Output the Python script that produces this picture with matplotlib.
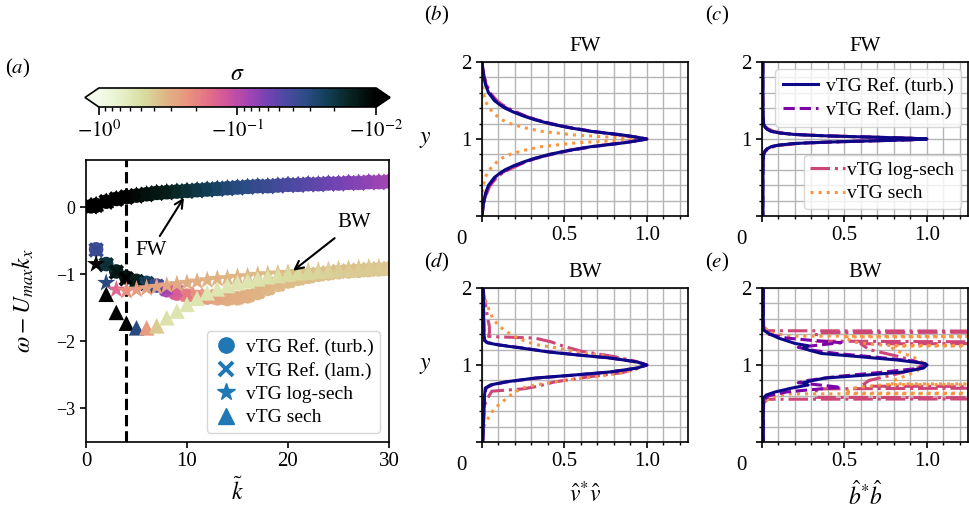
import numpy as np
import matplotlib
matplotlib.use("Agg")
import matplotlib.pyplot as plt
from matplotlib.colors import LinearSegmentedColormap, FuncNorm
from matplotlib.cm import ScalarMappable
from matplotlib.lines import Line2D
from matplotlib.ticker import MultipleLocator

plt.rcParams['font.family'] = 'serif'
plt.rcParams['font.serif'] = ['Liberation Serif', 'DejaVu Serif']
plt.rcParams['mathtext.fontset'] = 'stix'
plt.rcParams['axes.linewidth'] = 1.2

# ---------------- panel (a): dispersion, coloured by growth rate sigma ----------------
k_fw = [0.5, 1, 2, 3, 4, 5, 6, 7, 8, 9, 10, 11, 12, 13, 14, 15, 16, 17, 18, 19, 20,
        21, 22, 23, 24, 25, 26, 27, 28, 29, 30]
fw_turb = [0.01, 0.03, 0.08, 0.12, 0.15, 0.17, 0.19, 0.21, 0.22, 0.23, 0.24, 0.25, 0.26, 0.27, 0.28,
           0.29, 0.30, 0.31, 0.31, 0.32, 0.33, 0.33, 0.34, 0.34, 0.35, 0.35, 0.36, 0.36, 0.37, 0.37, 0.38]
fw_lam = [0.01, 0.03, 0.08, 0.12, 0.15, 0.17, 0.19, 0.21, 0.22, 0.23, 0.24, 0.25, 0.26, 0.27, 0.28,
          0.29, 0.30, 0.31, 0.31, 0.32, 0.33, 0.33, 0.34, 0.34, 0.35, 0.35, 0.36, 0.36, 0.37, 0.37, 0.38]
fw_logsech = [0.0, 0.02, 0.07, 0.11, 0.14, 0.16, 0.18, 0.20, 0.21, 0.22, 0.23, 0.24, 0.25, 0.26, 0.27,
              0.28, 0.29, 0.30, 0.30, 0.31, 0.32, 0.32, 0.33, 0.33, 0.34, 0.34, 0.35, 0.35, 0.36, 0.36, 0.37]
fw_sech = [0.03, 0.05, 0.10, 0.14, 0.17, 0.19, 0.21, 0.23, 0.24, 0.25, 0.26, 0.27, 0.28, 0.29, 0.30,
           0.31, 0.32, 0.33, 0.33, 0.34, 0.35, 0.35, 0.36, 0.36, 0.37, 0.37, 0.38, 0.38, 0.39, 0.39, 0.40]
sig_fw = [-0.01, -0.01, -0.01, -0.01, -0.01, -0.011, -0.012, -0.013, -0.014, -0.016, -0.018, -0.02,
          -0.022, -0.025, -0.028, -0.03, -0.032, -0.035, -0.037, -0.04, -0.043, -0.046, -0.049,
          -0.052, -0.056, -0.06, -0.064, -0.068, -0.073, -0.078, -0.083]

k_bw = [1, 2, 3, 4, 5, 6, 7, 8, 9, 10, 11, 12, 13, 14, 15, 16, 17, 18, 19, 20,
        21, 22, 23, 24, 25, 26, 27, 28, 29, 30]
bw_turb = [-0.63, -0.85, -0.96, -1.05, -1.10, -1.13, -1.17, -1.24, -1.29, -1.32, -1.34, -1.35, -1.36,
           -1.37, -1.36, -1.33, -1.28, -1.22, -1.16, -1.11, -1.07, -1.04, -1.01, -0.99, -0.97,
           -0.96, -0.95, -0.94, -0.93, -0.92]
sig_turb = [-0.04, -0.02, -0.015, -0.012, -0.015, -0.025, -0.04, -0.09, -0.14, -0.19, -0.23, -0.26,
            -0.28, -0.3, -0.31, -0.32, -0.33, -0.34, -0.35, -0.35, -0.36, -0.36, -0.36, -0.37,
            -0.37, -0.37, -0.37, -0.38, -0.38, -0.38]
bw_lam = [-0.64, -0.86, -0.97, -1.07, -1.11, -1.14, -1.18, -1.22, -1.27, -1.30, -1.32, -1.33, -1.34,
          -1.35, -1.34, -1.31, -1.26, -1.20, -1.15, -1.10, -1.06, -1.03, -1.00, -0.98, -0.96,
          -0.95, -0.94, -0.93, -0.92, -0.92]
sig_lam = [-0.035, -0.018, -0.013, -0.01, -0.014, -0.022, -0.035, -0.08, -0.13, -0.18, -0.22, -0.25,
           -0.27, -0.29, -0.3, -0.31, -0.32, -0.33, -0.34, -0.35, -0.35, -0.36, -0.36, -0.36,
           -0.37, -0.37, -0.37, -0.37, -0.38, -0.38]
bw_logsech = [-0.85, -1.13, -1.23, -1.25, -1.23, -1.21, -1.19, -1.17, -1.15, -1.13, -1.11, -1.09,
              -1.07, -1.06, -1.04, -1.03, -1.01, -1.0, -0.99, -0.98, -0.97, -0.96, -0.95, -0.94,
              -0.93, -0.92, -0.91, -0.9, -0.9, -0.89]
sig_logsech = [-0.01, -0.03, -0.15, -0.22, -0.25, -0.26, -0.27, -0.28, -0.29, -0.3, -0.31, -0.32,
               -0.32, -0.33, -0.33, -0.34, -0.34, -0.35, -0.35, -0.35, -0.36, -0.36, -0.36, -0.37,
               -0.37, -0.37, -0.37, -0.38, -0.38, -0.38]
bw_sech = [np.nan, -1.30, -1.57, -1.73, -1.80, -1.80, -1.77, -1.65, -1.55, -1.45, -1.36, -1.28,
           -1.22, -1.17, -1.13, -1.10, -1.07, -1.04, -1.02, -1.0, -0.98, -0.97, -0.96, -0.95,
           -0.94, -0.93, -0.92, -0.91, -0.91, -0.9]
sig_sech = [np.nan, -0.01, -0.01, -0.01, -0.03, -0.25, -0.4, -0.52, -0.55, -0.56, -0.56, -0.56, -0.56,
            -0.56, -0.55, -0.55, -0.54, -0.52, -0.5, -0.48, -0.46, -0.45, -0.44, -0.43, -0.42,
            -0.41, -0.4, -0.4, -0.4, -0.4]

k_cut = 4

cmap_colors = ['#f4faec', '#e6f0c8', '#d8dca0', '#dfb584', '#e9947e', '#e36c88', '#cc52a0',
               '#a444b4', '#7442b4', '#4a4aa0', '#2c4c86', '#12405a', '#0a2a2a', '#041410', '#000000']
cmap_pos = [0.0, 0.08, 0.16, 0.24, 0.32, 0.40, 0.47, 0.54, 0.61, 0.68, 0.75, 0.82, 0.89, 0.95, 1.0]

# ---------------- panels (b)-(e): eigenfunction profiles ----------------
b_off = [0, 0.02, 0.05, 0.1, 0.15, 0.2, 0.25, 0.3, 0.35, 0.4, 0.45, 0.5, 0.6, 0.7, 0.8, 0.9, 1.0]
b_turb = [1.0, 0.95, 0.86, 0.66, 0.52, 0.41, 0.32, 0.25, 0.19, 0.14, 0.105, 0.075, 0.04, 0.022, 0.012, 0.005, 0.0]
b_lam = [1.0, 0.95, 0.86, 0.67, 0.53, 0.42, 0.33, 0.26, 0.2, 0.15, 0.11, 0.08, 0.045, 0.025, 0.013, 0.005, 0.0]
b_logsech = [1.0, 0.94, 0.84, 0.66, 0.52, 0.41, 0.33, 0.26, 0.21, 0.16, 0.12, 0.09, 0.05, 0.03, 0.015, 0.005, 0.0]
b_sech = [1.0, 0.82, 0.57, 0.36, 0.25, 0.17, 0.12, 0.09, 0.065, 0.045, 0.03, 0.02, 0.008, 0.003, 0.0, 0.0, 0.0]

c_off = [0, 0.01, 0.02, 0.03, 0.04, 0.05, 0.06, 0.08, 0.1, 0.13, 0.16, 0.2, 0.3, 0.5, 1.0]
c_turb = [1.0, 0.9, 0.74, 0.56, 0.4, 0.28, 0.19, 0.1, 0.055, 0.03, 0.017, 0.01, 0.007, 0.006, 0.006]
c_lam = [1.0, 0.9, 0.74, 0.56, 0.4, 0.28, 0.19, 0.1, 0.055, 0.03, 0.017, 0.01, 0.006, 0.005, 0.005]
c_logsech = [1.0, 0.9, 0.75, 0.58, 0.42, 0.3, 0.21, 0.12, 0.07, 0.04, 0.02, 0.01, 0.005, 0.003, 0.0]
c_sech = [1.0, 0.89, 0.73, 0.55, 0.4, 0.28, 0.2, 0.11, 0.065, 0.035, 0.02, 0.01, 0.004, 0.002, 0.0]

d_turb_y = [2.0, 1.6, 1.4, 1.32, 1.29, 1.26, 1.22, 1.17, 1.13, 1.09, 1.04, 1.0, 0.96, 0.91, 0.87,
            0.83, 0.78, 0.74, 0.70, 0.6, 0.4, 0.2, 0.0]
d_turb_x = [0.008, 0.01, 0.012, 0.015, 0.03, 0.1, 0.24, 0.4, 0.58, 0.78, 0.94, 1.0, 0.94, 0.78, 0.56,
            0.32, 0.14, 0.05, 0.02, 0.015, 0.012, 0.008, 0.005]
d_lam_y = [2.0, 1.6, 1.4, 1.32, 1.29, 1.26, 1.22, 1.17, 1.13, 1.09, 1.04, 1.0, 0.96, 0.91, 0.87,
           0.83, 0.78, 0.74, 0.70, 0.6, 0.4, 0.2, 0.0]
d_lam_x = [0.008, 0.01, 0.012, 0.016, 0.035, 0.11, 0.25, 0.41, 0.59, 0.78, 0.94, 1.0, 0.94, 0.78, 0.57,
           0.33, 0.15, 0.06, 0.025, 0.015, 0.012, 0.008, 0.005]
d_logsech_y = [2.0, 1.8, 1.6, 1.5, 1.42, 1.37, 1.35, 1.3, 1.24, 1.18, 1.11, 1.05, 1.0, 0.95, 0.9,
               0.85, 0.78, 0.72, 0.69, 0.66, 0.61, 0.55, 0.5, 0.4, 0.2, 0.0]
d_logsech_x = [0.005, 0.02, 0.035, 0.045, 0.045, 0.04, 0.32, 0.42, 0.5, 0.6, 0.8, 0.93, 1.0, 0.93, 0.85,
               0.66, 0.44, 0.33, 0.25, 0.06, 0.045, 0.03, 0.02, 0.01, 0.005, 0.0]
d_sech_y = [1.95, 1.87, 1.7, 1.6, 1.5, 1.39, 1.3, 1.26, 1.22, 1.17, 1.12, 1.06, 1.0, 0.95, 0.9, 0.85,
            0.8, 0.78, 0.74, 0.7, 0.62, 0.55, 0.48, 0.42, 0.3, 0.22, 0.1]
d_sech_x = [0.005, 0.016, 0.046, 0.066, 0.106, 0.18, 0.27, 0.34, 0.46, 0.58, 0.74, 0.88, 1.0, 0.94,
            0.85, 0.7, 0.5, 0.44, 0.32, 0.24, 0.18, 0.14, 0.1, 0.07, 0.035, 0.016, 0.005]

e_turb_y = [2.0, 1.5, 1.45, 1.41, 1.35, 1.28, 1.25, 1.22, 1.19, 1.15, 1.11, 1.065, 1.02, 1.0, 0.96,
            0.91, 0.87, 0.83, 0.79, 0.77, 0.74, 0.7, 0.65, 0.61, 0.57, 0.5, 0.0]
e_turb_x = [0.008, 0.008, 0.012, 0.04, 0.1, 0.2, 0.28, 0.25, 0.29, 0.36, 0.58, 0.82, 0.99, 1.0, 0.98,
            0.86, 0.64, 0.38, 0.29, 0.25, 0.28, 0.18, 0.08, 0.026, 0.008, 0.008, 0.008]
e_lam_y = [2.0, 1.46, 1.4, 1.35, 1.32, 1.29, 1.26, 1.23, 1.2, 1.15, 1.1, 1.05, 1.0, 0.95, 0.9, 0.85,
           0.8, 0.77, 0.74, 0.71, 0.68, 0.65, 0.6, 0.54, 0.0]
e_lam_x = [0.008, 0.008, 0.04, 0.15, 0.3, 0.48, 0.35, 0.22, 0.28, 0.45, 0.7, 0.92, 1.0, 0.92, 0.7, 0.45,
           0.28, 0.22, 0.35, 0.48, 0.3, 0.15, 0.04, 0.008, 0.008]
e_logsech_y = [2.0, 1.5, 1.445, 1.435, 1.42, 1.31, 1.285, 1.275, 1.2, 1.1, 1.0, 0.9, 0.8, 0.725,
               0.715, 0.69, 0.58, 0.565, 0.555, 0.5, 0.0]
e_logsech_x = [0.005, 0.01, 0.03, 3.0, 0.33, 0.33, 3.0, 0.6, 0.65, 0.85, 1.0, 0.85, 0.65, 0.6,
               3.0, 0.33, 0.33, 3.0, 0.03, 0.01, 0.005]
e_sech_y = [2.0, 1.5, 1.42, 1.375, 1.37, 1.365, 1.3, 1.255, 1.25, 1.245, 1.2, 1.1, 1.0, 0.9, 0.8,
            0.755, 0.75, 0.745, 0.7, 0.635, 0.63, 0.625, 0.58, 0.5, 0.0]
e_sech_x = [0.005, 0.01, 0.05, 0.16, 3.0, 0.5, 0.55, 0.74, 3.0, 0.78, 0.8, 0.92, 1.0, 0.92, 0.8,
            0.78, 3.0, 0.74, 0.55, 0.5, 3.0, 0.16, 0.05, 0.01, 0.005]

col_turb = '#0d0887'
col_lam = '#7e03a8'
col_logsech = '#cc4778'
col_sech = '#f89540'

labels = ['vTG Ref. (turb.)', 'vTG Ref. (lam.)', 'vTG log-sech', 'vTG sech']

# ---------------- figure ----------------
W, H = 970, 511
fig = plt.figure(figsize=(9.7, 5.11), dpi=100)


def fbox(x0, y0, x1, y1):
    return [x0 / W, 1 - y1 / H, (x1 - x0) / W, (y1 - y0) / H]


cmap = LinearSegmentedColormap.from_list('sig', list(zip(cmap_pos, cmap_colors)))
norm = FuncNorm((lambda s: -np.log10(-s), lambda u: -10.0 ** (-u)), vmin=-1.0, vmax=-0.01)

ax = fig.add_axes(fbox(86, 160, 389, 442))
ax.axvline(k_cut, color='k', lw=2.2, ls='--', zorder=1)

sets = [('o', 110, fw_turb, bw_turb, sig_turb),
        ('x', 85, fw_lam, bw_lam, sig_lam),
        ('*', 190, fw_logsech, bw_logsech, sig_logsech),
        ('^', 125, fw_sech, bw_sech, sig_sech)]
for mk, s, fw, bw, sg in sets:
    lw = 2.8 if mk == 'x' else 0
    ax.scatter(k_bw, bw, c=sg, cmap=cmap, norm=norm, marker=mk, s=s, linewidths=lw, zorder=2)
    ax.scatter(k_fw, fw, c=sig_fw, cmap=cmap, norm=norm, marker=mk, s=s, linewidths=lw, zorder=2)

ax.annotate('FW', xy=(9.7, 0.14), xytext=(6.4, -0.65), fontsize=15, ha='center', va='center',
            arrowprops=dict(arrowstyle='->', color='k', lw=1.5, shrinkA=2, shrinkB=0))
ax.annotate('BW', xy=(20.5, -0.95), xytext=(26.6, -0.23), fontsize=15, ha='center', va='center',
            arrowprops=dict(arrowstyle='->', color='k', lw=1.5, shrinkA=4, shrinkB=0))

ax.set_xlim(0, 30)
ax.set_ylim(-3.5, 0.7)
ax.set_xticks([0, 10, 20, 30])
ax.set_yticks([0, -1, -2, -3])
ax.tick_params(axis='x', labelsize=15, width=1.2, length=4)
ax.tick_params(axis='y', labelsize=13, width=1.2, length=4)
ax.set_xlabel(r'$\tilde{k}$', fontsize=17)
ax.xaxis.set_label_coords(0.5, -0.125)
ax.set_ylabel(r'$\omega - U_{max}k_x$', fontsize=17)
ax.yaxis.set_label_coords(-0.165, 0.5)

handles = [Line2D([], [], ls='', marker='o', ms=11, color='#1f77b4'),
           Line2D([], [], ls='', marker='x', ms=10, mew=2.8, color='#1f77b4'),
           Line2D([], [], ls='', marker='*', ms=13, color='#1f77b4'),
           Line2D([], [], ls='', marker='^', ms=11, color='#1f77b4')]
ax.legend(handles, labels, loc='lower right', fontsize=14, labelspacing=0.3,
          handletextpad=0.35, borderpad=0.35, handlelength=1.3, borderaxespad=0.45)

cax = fig.add_axes(fbox(85, 88, 390, 107))
sm = ScalarMappable(norm=norm, cmap=cmap)
cb = fig.colorbar(sm, cax=cax, orientation='horizontal', extend='both')
cb.set_ticks([-1.0, -0.1, -0.01], labels=[r'$-10^{0}$', r'$-10^{-1}$', r'$-10^{-2}$'])
cb.set_ticks([-0.9, -0.8, -0.7, -0.6, -0.5, -0.4, -0.3, -0.2,
              -0.09, -0.08, -0.07, -0.06, -0.05, -0.04, -0.03, -0.02], minor=True)
cb.ax.tick_params(which='major', labelsize=15, length=6, width=1.2)
cb.ax.tick_params(which='minor', length=3, width=1.0)
cb.outline.set_linewidth(1.2)
cb.ax.set_title(r'$\sigma$', fontsize=17, pad=6)

fig.text(18 / W, 1 - 68 / H, r'($a$)', fontsize=15, ha='center', va='center')


def profile_axes(box, title, tag, tag_xy, xlabel=None, ylabel=False):
    a = fig.add_axes(fbox(*box))
    a.set_xlim(0, 1.25)
    a.set_ylim(0, 2)
    a.set_xticks([0, 0.5, 1.0], labels=['', '0.5', '1.0'])
    a.set_yticks([0, 1, 2], labels=['', '1', '2'])
    a.xaxis.set_minor_locator(MultipleLocator(0.1))
    a.yaxis.set_minor_locator(MultipleLocator(0.2))
    a.grid(which='both', color='#b5b5b5', lw=1.0)
    a.set_axisbelow(True)
    a.tick_params(which='major', labelsize=15, length=4, width=1.2)
    a.tick_params(which='minor', length=2.5, width=1.0)
    a.annotate('0', xy=(0, 0), xycoords='axes fraction', xytext=(-21, -23),
               textcoords='offset pixels', ha='center', va='center', fontsize=15)
    a.set_title(title, fontsize=15, pad=8)
    if ylabel:
        a.set_ylabel('$y$', fontsize=17, rotation=0, va='center', ha='center')
        a.yaxis.set_label_coords(-0.275, 0.5)
    if xlabel:
        a.set_xlabel(xlabel, fontsize=17)
        a.xaxis.set_label_coords(0.5, -0.255)
    fig.text(tag_xy[0] / W, 1 - tag_xy[1] / H, tag, fontsize=15, ha='center', va='center')
    return a


def draw_lines(a, curves):
    # curves: list of (x, y) in order turb, lam, logsech, sech
    (xt, yt), (xl, yl), (xg, yg), (xs, ys) = curves
    a.plot(xg, yg, color=col_logsech, lw=2.2, ls='-.')
    a.plot(xs, ys, color=col_sech, lw=2.2, ls=':')
    a.plot(xl, yl, color=col_lam, lw=2.2, ls='--')
    a.plot(xt, yt, color=col_turb, lw=2.2, ls='-')


def mirrored(off, vals):
    off = np.asarray(off, float)
    vals = np.asarray(vals, float)
    y = np.concatenate([1 + off[::-1], 1 - off[1:]])
    x = np.concatenate([vals[::-1], vals[1:]])
    return x, y


ax_b = profile_axes((482, 62, 688, 216), 'FW', r'($b$)', (437, 15), ylabel=True)
draw_lines(ax_b, [mirrored(b_off, b_turb), mirrored(b_off, b_lam),
                  mirrored(b_off, b_logsech), mirrored(b_off, b_sech)])

ax_c = profile_axes((762, 62, 968, 216), 'FW', r'($c$)', (717, 15))
draw_lines(ax_c, [mirrored(c_off, c_turb), mirrored(c_off, c_lam),
                  mirrored(c_off, c_logsech), mirrored(c_off, c_sech)])
h_top = [Line2D([], [], color=col_turb, lw=2.2, ls='-'), Line2D([], [], color=col_lam, lw=2.2, ls='--')]
h_bot = [Line2D([], [], color=col_logsech, lw=2.2, ls='-.'), Line2D([], [], color=col_sech, lw=2.2, ls=':')]
leg1 = ax_c.legend(h_top, labels[:2], loc='upper right', fontsize=14, labelspacing=0.35,
                   handletextpad=0.4, borderpad=0.4, handlelength=1.8, borderaxespad=0.35)
ax_c.add_artist(leg1)
ax_c.legend(h_bot, labels[2:], loc='lower right', fontsize=14, labelspacing=0.3,
            handletextpad=0.1, borderpad=0.35, handlelength=1.8, borderaxespad=0.35)

ax_d = profile_axes((482, 288, 688, 442), 'BW', r'($d$)', (437, 262),
                    xlabel=r'$\hat{v}^{*}\hat{v}$', ylabel=True)
draw_lines(ax_d, [(d_turb_x, d_turb_y), (d_lam_x, d_lam_y),
                  (d_logsech_x, d_logsech_y), (d_sech_x, d_sech_y)])

ax_e = profile_axes((762, 288, 968, 442), 'BW', r'($e$)', (717, 262),
                    xlabel=r'$\hat{b}^{*}\hat{b}$')
draw_lines(ax_e, [(e_turb_x, e_turb_y), (e_lam_x, e_lam_y),
                  (e_logsech_x, e_logsech_y), (e_sech_x, e_sech_y)])

fig.savefig('out.png', dpi=100)
